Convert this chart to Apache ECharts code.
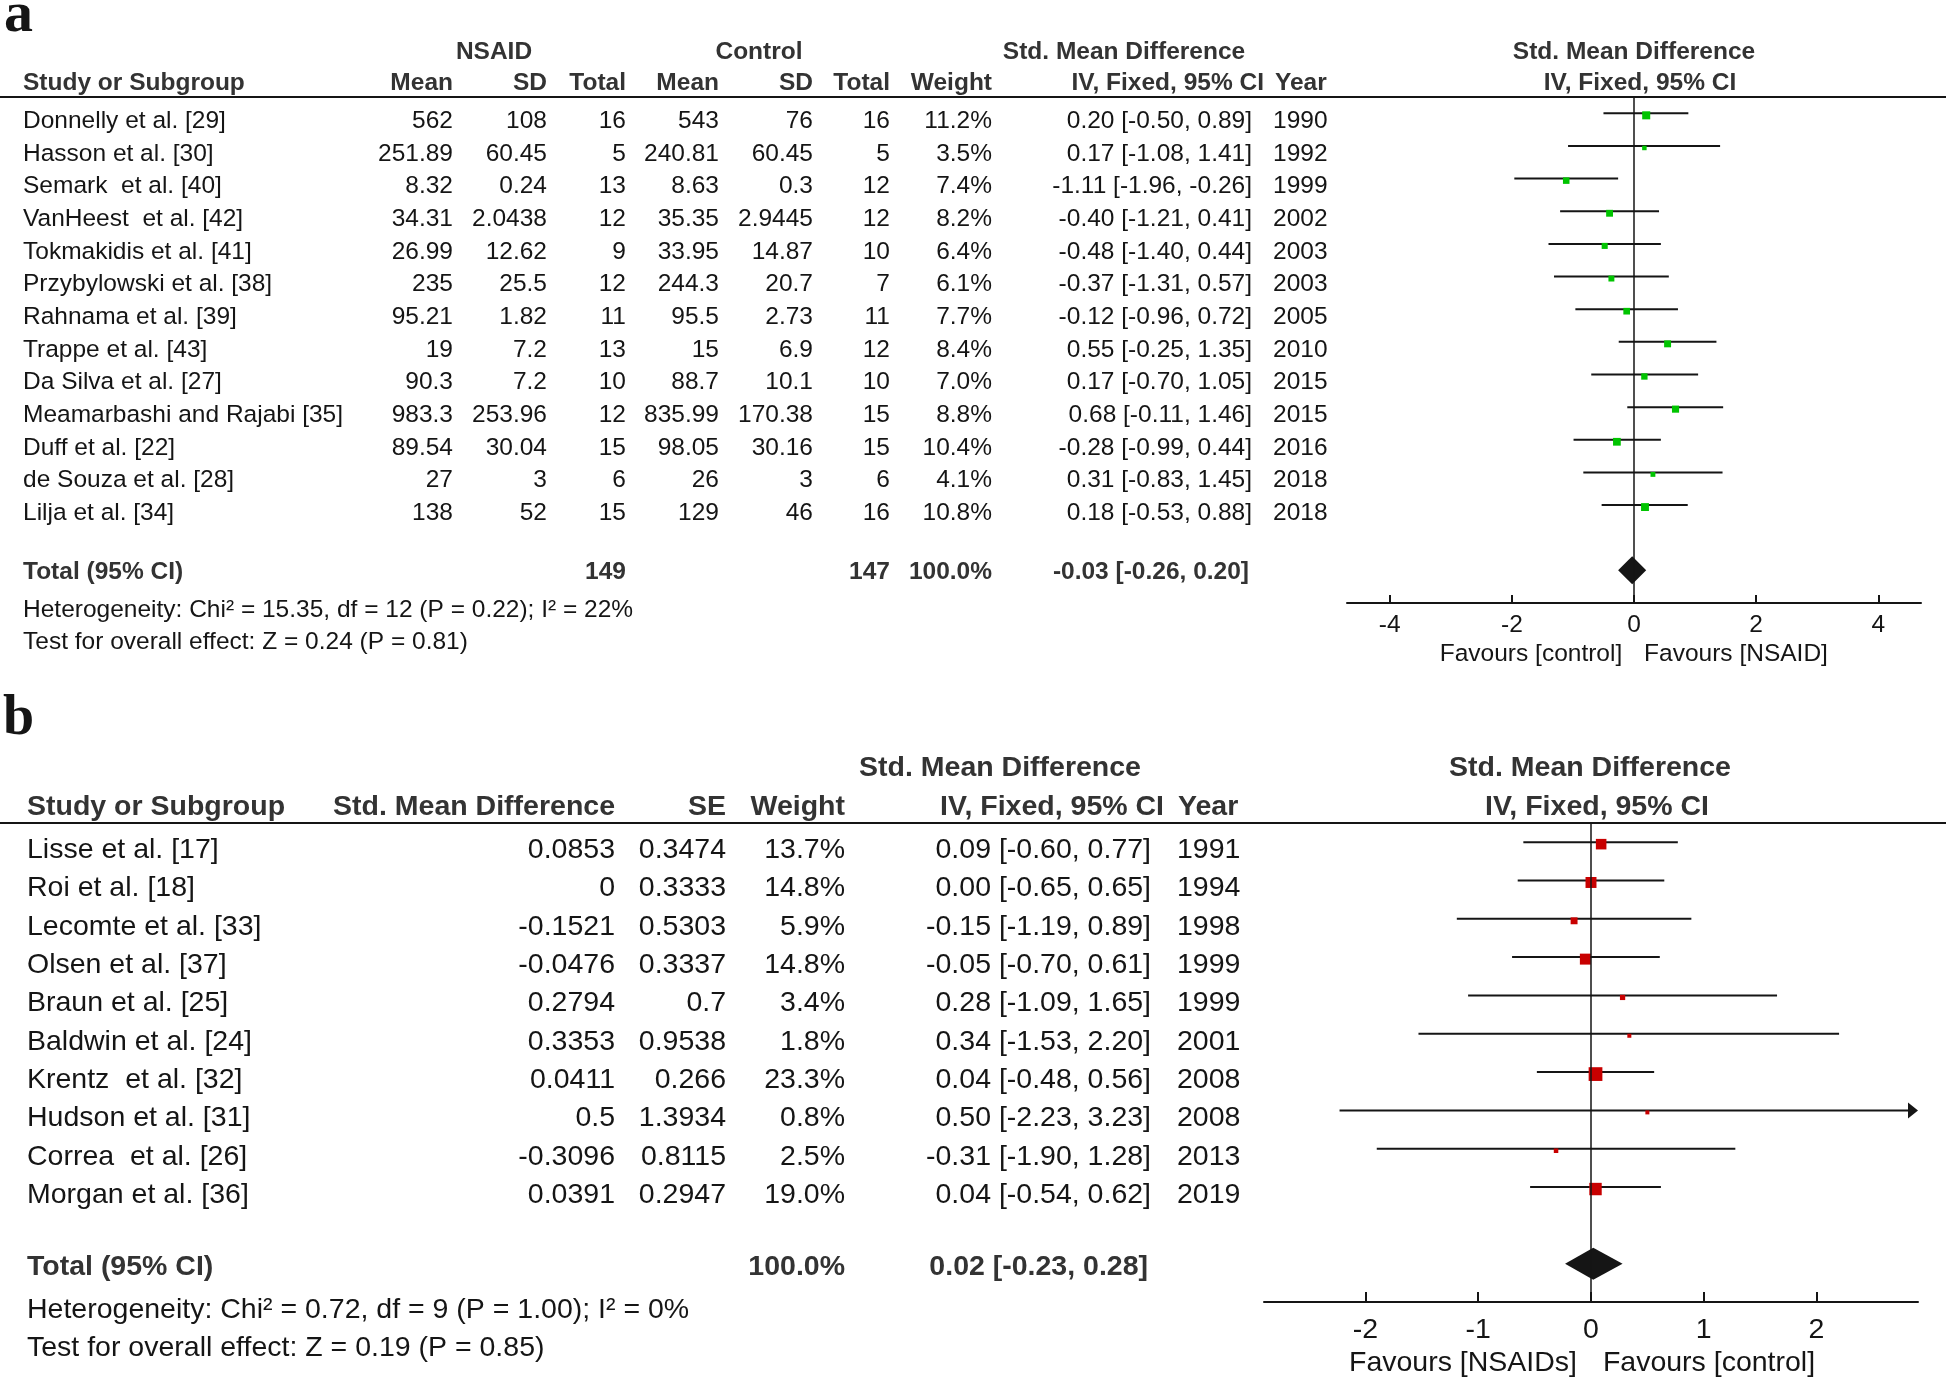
<!DOCTYPE html>
<html>
<head>
<meta charset="utf-8">
<title>NSAID forest plots</title>
<script src="https://cdn.jsdelivr.net/npm/echarts@6/dist/echarts.min.js"></script>
<style>
  html, body { margin: 0; padding: 0; background: #fff; }
  #chart { width: 1946px; height: 1380px; }
</style>
</head>
<body>
<div id="chart"></div>
<script>
// ---- panel a: NSAID vs control (means / SD / totals) ----
const studiesA = ['Donnelly et al. [29]', 'Hasson et al. [30]', 'Semark  et al. [40]', 'VanHeest  et al. [42]',
  'Tokmakidis et al. [41]', 'Przybylowski et al. [38]', 'Rahnama et al. [39]', 'Trappe et al. [43]',
  'Da Silva et al. [27]', 'Meamarbashi and Rajabi [35]', 'Duff et al. [22]', 'de Souza et al. [28]', 'Lilja et al. [34]']
const nsaidMean = [562, 251.89, 8.32, 34.31, 26.99, 235, 95.21, 19, 90.3, 983.3, 89.54, 27, 138]
const nsaidSD = [108, 60.45, 0.24, 2.0438, 12.62, 25.5, 1.82, 7.2, 7.2, 253.96, 30.04, 3, 52]
const nsaidN = [16, 5, 13, 12, 9, 12, 11, 13, 10, 12, 15, 6, 15]
const ctrlMean = [543, 240.81, 8.63, 35.35, 33.95, 244.3, 95.5, 15, 88.7, 835.99, 98.05, 26, 129]
const ctrlSD = [76, 60.45, 0.3, 2.9445, 14.87, 20.7, 2.73, 6.9, 10.1, 170.38, 30.16, 3, 46]
const ctrlN = [16, 5, 12, 12, 10, 7, 11, 12, 10, 15, 15, 6, 16]
const weightA = [11.2, 3.5, 7.4, 8.2, 6.4, 6.1, 7.7, 8.4, 7.0, 8.8, 10.4, 4.1, 10.8]
const smdA = [0.20, 0.17, -1.11, -0.40, -0.48, -0.37, -0.12, 0.55, 0.17, 0.68, -0.28, 0.31, 0.18]
const loA = [-0.50, -1.08, -1.96, -1.21, -1.40, -1.31, -0.96, -0.25, -0.70, -0.11, -0.99, -0.83, -0.53]
const hiA = [0.89, 1.41, -0.26, 0.41, 0.44, 0.57, 0.72, 1.35, 1.05, 1.46, 0.44, 1.45, 0.88]
const yearA = [1990, 1992, 1999, 2002, 2003, 2003, 2005, 2010, 2015, 2015, 2016, 2018, 2018]
const totalA = [-0.03, -0.26, 0.20]
const totalNA = [149, 147]
const ticksA = [-4, -2, 0, 2, 4]

// ---- panel b: generic inverse variance (SMD / SE) ----
const studiesB = ['Lisse et al. [17]', 'Roi et al. [18]', 'Lecomte et al. [33]', 'Olsen et al. [37]',
  'Braun et al. [25]', 'Baldwin et al. [24]', 'Krentz  et al. [32]', 'Hudson et al. [31]',
  'Correa  et al. [26]', 'Morgan et al. [36]']
const smdRawB = [0.0853, 0, -0.1521, -0.0476, 0.2794, 0.3353, 0.0411, 0.5, -0.3096, 0.0391]
const seB = [0.3474, 0.3333, 0.5303, 0.3337, 0.7, 0.9538, 0.266, 1.3934, 0.8115, 0.2947]
const weightB = [13.7, 14.8, 5.9, 14.8, 3.4, 1.8, 23.3, 0.8, 2.5, 19.0]
const smdB = [0.09, 0.00, -0.15, -0.05, 0.28, 0.34, 0.04, 0.50, -0.31, 0.04]
const loB = [-0.60, -0.65, -1.19, -0.70, -1.09, -1.53, -0.48, -2.23, -1.90, -0.54]
const hiB = [0.77, 0.65, 0.89, 0.61, 1.65, 2.20, 0.56, 3.23, 1.28, 0.62]
const yearB = [1991, 1994, 1998, 1999, 1999, 2001, 2008, 2008, 2013, 2019]
const totalB = [0.02, -0.23, 0.28]
const ticksB = [-2, -1, 0, 1, 2]

const INK = '#151515'
const HEAD = '#333333'
const FONT = '"Liberation Sans", Arial, sans-serif'
const SERIF = '"Liberation Serif", "Times New Roman", serif'

// forest panel settings (axis range, row range, box styling)
const panelA = { min: -4.7, max: 4.7, rows: 15, color: '#00c400', boxScale: 2.4, minBox: 4, diamondHalf: 14 }
const panelB = { min: -2.9, max: 2.9, rows: 12, color: '#c80000', boxScale: 2.85, minBox: 4, diamondHalf: 16 }

const fmtCI = (e, l, h) => `${e.toFixed(2)} [${l.toFixed(2)}, ${h.toFixed(2)}]`

const studyItem = (panel) => (params, api) => {
  const est = api.value(0)
  const lo = api.value(1)
  const hi = api.value(2)
  const w = api.value(3)
  const row = api.value(4)
  const left = api.coord([Math.max(lo, panel.min), row])
  const right = api.coord([Math.min(hi, panel.max), row])
  const mid = api.coord([est, row])
  const size = Math.max(panel.minBox, panel.boxScale * Math.sqrt(w))
  const clipped = hi > panel.max
  const children = [
    {
      type: 'line',
      shape: { x1: left[0], y1: left[1], x2: clipped ? right[0] - 8 : right[0], y2: right[1] },
      style: { stroke: INK, lineWidth: 2 },
    },
  ]
  if (clipped) {
    children.push({
      type: 'polygon',
      shape: { points: [[right[0] - 10, right[1] - 8], [right[0], right[1]], [right[0] - 10, right[1] + 8]] },
      style: { fill: INK },
    })
  }
  children.push({
    type: 'rect',
    shape: { x: mid[0] - size / 2, y: mid[1] + 2 - size / 2, width: size, height: size },
    style: { fill: panel.color },
  })
  return { type: 'group', children }
}

const diamondItem = (half) => (params, api) => {
  const row = api.value(3)
  const c = api.coord([api.value(0), row])
  const l = api.coord([api.value(1), row])
  const r = api.coord([api.value(2), row])
  return {
    type: 'polygon',
    shape: { points: [[l[0], c[1]], [c[0], c[1] - half], [r[0], c[1]], [c[0], c[1] + half]] },
    style: { fill: INK },
  }
}

const xAxisFor = (gridIndex, panel, ticks, fontSize, margin, tickLen) => ({
  type: 'value',
  gridIndex,
  min: panel.min,
  max: panel.max,
  position: 'bottom',
  axisLine: { show: true, onZero: false, lineStyle: { color: INK, width: 2 } },
  axisTick: { show: true, inside: true, length: tickLen, customValues: ticks, lineStyle: { color: INK, width: 2 } },
  axisLabel: {
    customValues: ticks,
    color: INK,
    fontSize,
    fontFamily: FONT,
    margin,
    formatter: (v) => String(v),
  },
  splitLine: { show: false },
})

const yAxisFor = (gridIndex, panel) => ({
  type: 'value',
  gridIndex,
  min: -0.5,
  max: panel.rows,
  inverse: true,
  show: false,
})

const zeroLine = () => ({
  silent: true,
  symbol: ['none', 'none'],
  label: { show: false },
  lineStyle: { color: INK, width: 1.5, type: 'solid' },
  data: [{ xAxis: 0 }],
})

const chart = echarts.init(document.getElementById('chart'))

chart.setOption({
  animation: false,
  backgroundColor: '#ffffff',
  grid: [
    { left: 1347, top: 97, width: 574, height: 506 },
    { left: 1264, top: 823, width: 654, height: 479 },
  ],
  xAxis: [
    xAxisFor(0, panelA, ticksA, 24.5, 10, 8),
    xAxisFor(1, panelB, ticksB, 28.5, 14, 10),
  ],
  yAxis: [yAxisFor(0, panelA), yAxisFor(1, panelB)],
  series: [
    {
      type: 'custom',
      xAxisIndex: 0,
      yAxisIndex: 0,
      z: 2,
      renderItem: diamondItem(panelA.diamondHalf),
      encode: { x: [0, 1, 2], y: 3 },
      data: [[totalA[0], totalA[1], totalA[2], 14]],
      markLine: zeroLine(),
    },
    {
      type: 'custom',
      xAxisIndex: 0,
      yAxisIndex: 0,
      z: 3,
      renderItem: studyItem(panelA),
      encode: { x: [0, 1, 2], y: 4 },
      data: smdA.map((v, i) => [v, loA[i], hiA[i], weightA[i], i]),
    },
    {
      type: 'custom',
      xAxisIndex: 1,
      yAxisIndex: 1,
      z: 2,
      renderItem: diamondItem(panelB.diamondHalf),
      encode: { x: [0, 1, 2], y: 3 },
      data: [[totalB[0], totalB[1], totalB[2], 11]],
      markLine: zeroLine(),
    },
    {
      type: 'custom',
      xAxisIndex: 1,
      yAxisIndex: 1,
      z: 3,
      renderItem: studyItem(panelB),
      encode: { x: [0, 1, 2], y: 4 },
      data: smdB.map((v, i) => [v, loB[i], hiB[i], weightB[i], i]),
    },
  ],
})

// ---- table text, rows aligned to the forest y scales ----
const rowY = (gridIndex, row) => chart.convertToPixel({ gridIndex }, [0, row])[1]

const txt = (text, x, y, size, opts = {}) => ({
  type: 'text',
  x,
  y,
  silent: true,
  style: {
    text: String(text),
    fill: opts.fill || INK,
    font: `${opts.bold ? 'bold ' : ''}${size}px ${opts.family || FONT}`,
    align: opts.align || 'left',
    textAlign: opts.align || 'left',
    verticalAlign: 'middle',
    textVerticalAlign: 'middle',
  },
})

const rule = (y) => ({
  type: 'line',
  silent: true,
  shape: { x1: 0, y1: y, x2: 1946, y2: y },
  style: { stroke: INK, lineWidth: 2 },
})

const els = []

// panel a
const SA = 24.5
const colA = { study: 23, m1: 453, sd1: 547, n1: 626, m2: 719, sd2: 813, n2: 890, w: 992, ci: 1252, year: 1273 }
const hA = { bold: true, fill: HEAD, align: 'right' }
els.push(txt('a', 4, 16, 58, { bold: true, family: SERIF }))
els.push(txt('NSAID', 494, 52, SA, { bold: true, fill: HEAD, align: 'center' }))
els.push(txt('Control', 759, 52, SA, { bold: true, fill: HEAD, align: 'center' }))
els.push(txt('Std. Mean Difference', 1124, 52, SA, { bold: true, fill: HEAD, align: 'center' }))
els.push(txt('Std. Mean Difference', 1634, 52, SA, { bold: true, fill: HEAD, align: 'center' }))
els.push(txt('Study or Subgroup', colA.study, 83, SA, { bold: true, fill: HEAD }))
els.push(txt('Mean', colA.m1, 83, SA, hA))
els.push(txt('SD', colA.sd1, 83, SA, hA))
els.push(txt('Total', colA.n1, 83, SA, hA))
els.push(txt('Mean', colA.m2, 83, SA, hA))
els.push(txt('SD', colA.sd2, 83, SA, hA))
els.push(txt('Total', colA.n2, 83, SA, hA))
els.push(txt('Weight', colA.w, 83, SA, hA))
els.push(txt('IV, Fixed, 95% CI', 1264, 83, SA, hA))
els.push(txt('Year', 1275, 83, SA, { bold: true, fill: HEAD }))
els.push(txt('IV, Fixed, 95% CI', 1640, 83, SA, { bold: true, fill: HEAD, align: 'center' }))
els.push(rule(97))

studiesA.forEach((name, i) => {
  const y = rowY(0, i) + 8
  const r = { align: 'right' }
  els.push(txt(name, colA.study, y, SA))
  els.push(txt(nsaidMean[i], colA.m1, y, SA, r))
  els.push(txt(nsaidSD[i], colA.sd1, y, SA, r))
  els.push(txt(nsaidN[i], colA.n1, y, SA, r))
  els.push(txt(ctrlMean[i], colA.m2, y, SA, r))
  els.push(txt(ctrlSD[i], colA.sd2, y, SA, r))
  els.push(txt(ctrlN[i], colA.n2, y, SA, r))
  els.push(txt(weightA[i].toFixed(1) + '%', colA.w, y, SA, r))
  els.push(txt(fmtCI(smdA[i], loA[i], hiA[i]), colA.ci, y, SA, r))
  els.push(txt(yearA[i], colA.year, y, SA))
})

const totYA = rowY(0, 14) + 2
const tA = { bold: true, fill: HEAD, align: 'right' }
els.push(txt('Total (95% CI)', colA.study, totYA, SA, { bold: true, fill: HEAD }))
els.push(txt(totalNA[0], colA.n1, totYA, SA, tA))
els.push(txt(totalNA[1], colA.n2, totYA, SA, tA))
els.push(txt('100.0%', colA.w, totYA, SA, tA))
els.push(txt(fmtCI(totalA[0], totalA[1], totalA[2]), 1249, totYA, SA, tA))
els.push(txt('Heterogeneity: Chi² = 15.35, df = 12 (P = 0.22); I² = 22%', colA.study, totYA + 38, SA))
els.push(txt('Test for overall effect: Z = 0.24 (P = 0.81)', colA.study, totYA + 70, SA))
els.push(txt('Favours [control]', 1531, 654, SA, { align: 'center' }))
els.push(txt('Favours [NSAID]', 1736, 654, SA, { align: 'center' }))

// panel b
const SB = 28.5
const colB = { study: 27, smd: 615, se: 726, w: 845, ci: 1151, year: 1177 }
const hB = { bold: true, fill: HEAD, align: 'right' }
els.push(txt('b', 3, 720, 56, { bold: true, family: SERIF }))
els.push(txt('Std. Mean Difference', 1000, 768, SB, { bold: true, fill: HEAD, align: 'center' }))
els.push(txt('Std. Mean Difference', 1590, 768, SB, { bold: true, fill: HEAD, align: 'center' }))
els.push(txt('Study or Subgroup', colB.study, 807, SB, { bold: true, fill: HEAD }))
els.push(txt('Std. Mean Difference', colB.smd, 807, SB, hB))
els.push(txt('SE', colB.se, 807, SB, hB))
els.push(txt('Weight', colB.w, 807, SB, hB))
els.push(txt('IV, Fixed, 95% CI', 1164, 807, SB, hB))
els.push(txt('Year', 1178, 807, SB, { bold: true, fill: HEAD }))
els.push(txt('IV, Fixed, 95% CI', 1597, 807, SB, { bold: true, fill: HEAD, align: 'center' }))
els.push(rule(823))

studiesB.forEach((name, i) => {
  const y = rowY(1, i) + 8
  const r = { align: 'right' }
  els.push(txt(name, colB.study, y, SB))
  els.push(txt(smdRawB[i], colB.smd, y, SB, r))
  els.push(txt(seB[i], colB.se, y, SB, r))
  els.push(txt(weightB[i].toFixed(1) + '%', colB.w, y, SB, r))
  els.push(txt(fmtCI(smdB[i], loB[i], hiB[i]), colB.ci, y, SB, r))
  els.push(txt(yearB[i], colB.year, y, SB))
})

const totYB = rowY(1, 11) + 3
els.push(txt('Total (95% CI)', colB.study, totYB, SB, { bold: true, fill: HEAD }))
els.push(txt('100.0%', colB.w, totYB, SB, { bold: true, fill: HEAD, align: 'right' }))
els.push(txt(fmtCI(totalB[0], totalB[1], totalB[2]), 1148, totYB, SB, { bold: true, fill: HEAD, align: 'right' }))
els.push(txt('Heterogeneity: Chi² = 0.72, df = 9 (P = 1.00); I² = 0%', colB.study, totYB + 43, SB))
els.push(txt('Test for overall effect: Z = 0.19 (P = 0.85)', colB.study, totYB + 81, SB))
els.push(txt('Favours [NSAIDs]', 1463, 1363, SB, { align: 'center' }))
els.push(txt('Favours [control]', 1709, 1363, SB, { align: 'center' }))

chart.setOption({ graphic: { elements: els } })

window.addEventListener('resize', () => chart.resize())
</script>
</body>
</html>
